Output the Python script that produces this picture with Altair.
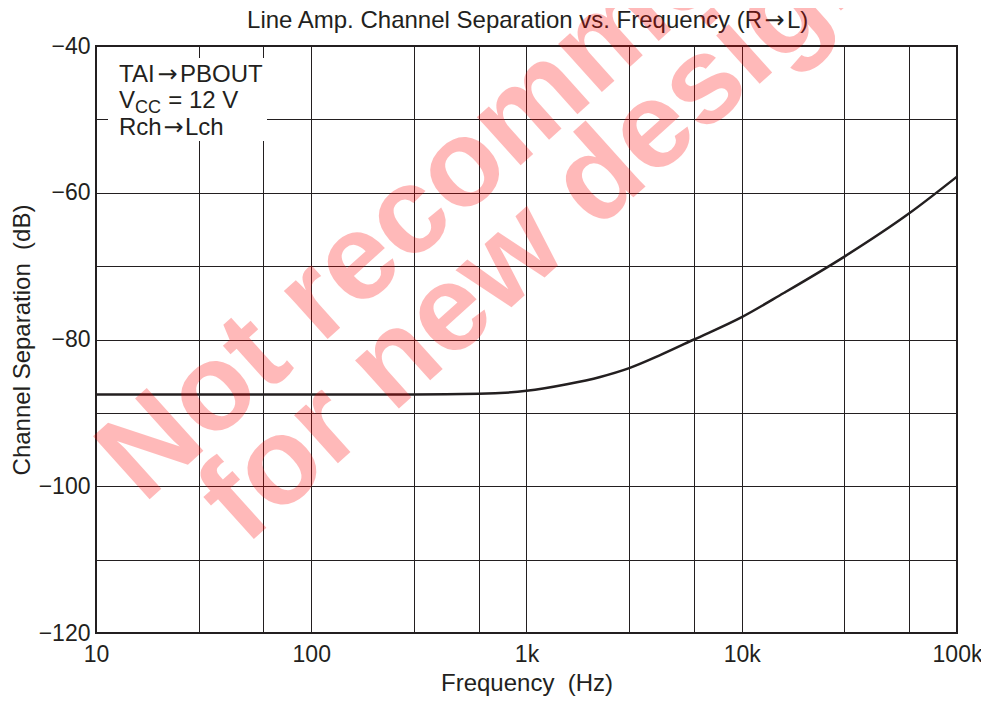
import altair as alt
import pandas as pd

# ---- data ----
freq_hz = [10, 100, 300, 600, 1000, 1540, 2200, 3000, 4200, 6000, 10000, 15600, 30000, 60000, 100000]
separation_db = [-87.5, -87.5, -87.5, -87.4, -87.0, -86.1, -85.1, -83.9, -82.1, -80.0, -76.95, -73.7, -68.7, -62.8, -57.8]

x_grid_values = [10, 30, 60, 100, 300, 600, 1000, 3000, 6000, 10000, 30000, 60000, 100000]
x_label_values = [10, 100, 1000, 10000, 100000]
x_label_texts = ["10", "100", "1k", "10k", "100k"]
y_grid_values = [-120, -110, -100, -90, -80, -70, -60, -50, -40]

ARROW = "\u2192"
title_parts = ["Line Amp. Channel Separation vs. Frequency (R", ARROW, "L)"]
x_title = "Frequency \u00a0(Hz)"
y_title = "Channel Separation \u00a0(dB)"
note_line1 = ["TAI", ARROW, "PBOUT"]
note_line2 = ["V", "CC", "= 12 V"]
note_line3 = ["Rch", ARROW, "Lch"]
watermark_lines = ["Not recommended", "for new designs"]

INK = "#231f20"
FONT = "Liberation Sans, Arial, sans-serif"
ARROW_FONT = "DejaVu Sans"

df = pd.DataFrame({"f": freq_hz, "db": separation_db})

label_expr = " : ".join(
    f"datum.value == {v} ? '{t}'" for v, t in zip(x_label_values, x_label_texts)
) + " : ''"

x_enc = alt.X(
    "f:Q",
    scale=alt.Scale(type="log", domain=[10, 100000], nice=False),
    axis=alt.Axis(
        values=x_grid_values, labelExpr=label_expr, title=x_title,
        grid=True, gridColor=INK, gridWidth=1, gridOpacity=1,
        ticks=False, domain=False, labelFlush=False, labelOverlap=False,
        labelPadding=10, labelFontSize=23, labelFont=FONT, labelColor=INK,
        titleFontSize=24, titleFont=FONT, titleColor=INK, titleFontWeight="normal",
        titleX=430.5, titleY=50, titleBaseline="middle", titleAlign="center",
        zindex=0,
    ),
)
y_enc = alt.Y(
    "db:Q",
    scale=alt.Scale(domain=[-120, -40], nice=False, zero=False),
    axis=alt.Axis(
        values=y_grid_values, labelExpr="datum.value % 20 == 0 ? datum.label : ''",
        title=y_title,
        grid=True, gridColor=INK, gridWidth=1, gridOpacity=1,
        ticks=False, domain=False, labelFlush=False, labelOverlap=False,
        labelPadding=6, labelFontSize=23, labelFont=FONT, labelColor=INK,
        titleFontSize=24, titleFont=FONT, titleColor=INK, titleFontWeight="normal",
        titleX=-74, titleY=293.5, titleBaseline="middle", titleAlign="center", titleAngle=270,
        zindex=0,
    ),
)

curve = alt.Chart(df).mark_line(
    color=INK, strokeWidth=2.5, interpolate="monotone"
).encode(x=x_enc, y=y_enc)

one = pd.DataFrame({"k": [0]})

note_box = alt.Chart(one).mark_rect(color="white", fill="white").encode(
    x=alt.value(12), x2=alt.value(171), y=alt.value(12), y2=alt.value(95)
)


def txt(s, x, y, size=24, align="left", font=FONT):
    return alt.Chart(pd.DataFrame({"t": [s]})).mark_text(
        align=align, baseline="alphabetic", font=font, fontSize=size, color=INK
    ).encode(text="t:N", x=alt.value(x), y=alt.value(y))


texts = [
    # chart title
    txt(title_parts[0], 666, -17.7, align="right"),
    txt(title_parts[1], 678.5, -17.7, align="center", font=ARROW_FONT),
    txt(title_parts[2], 691, -17.7),
    # note block
    txt(note_line1[0], 23, 35.7),
    txt(note_line1[1], 71.5, 35.7, align="center", font=ARROW_FONT),
    txt(note_line1[2], 84, 35.7),
    txt(note_line2[0], 23, 62.3),
    txt(note_line2[1], 39, 67.3, size=18),
    txt(note_line2[2], 72.3, 62.3),
    txt(note_line3[0], 23, 89),
    txt(note_line3[1], 77.5, 89, align="center", font=ARROW_FONT),
    txt(note_line3[2], 89, 89),
]


def wm(line, x, y):
    return alt.Chart(pd.DataFrame({"t": [line]})).mark_text(
        align="center", baseline="middle", angle=318,
        font=FONT, fontWeight="bold", fontSize=123,
        color="#ff0000", opacity=0.27,
    ).encode(text="t:N", x=alt.value(x), y=alt.value(y))


watermark = [
    wm(watermark_lines[0], 424, 70),
    wm(watermark_lines[1], 472.5, 160),
]

chart = alt.layer(curve, note_box, *texts, *watermark).properties(
    width=861,
    height=587,
    autosize=alt.AutoSizeParams(type="none"),
    padding={"left": 88, "top": 38, "right": 24, "bottom": 63},
).configure_view(stroke=INK, strokeWidth=2)

chart.save("out.html", embed_options={"renderer": "svg", "actions": False})
